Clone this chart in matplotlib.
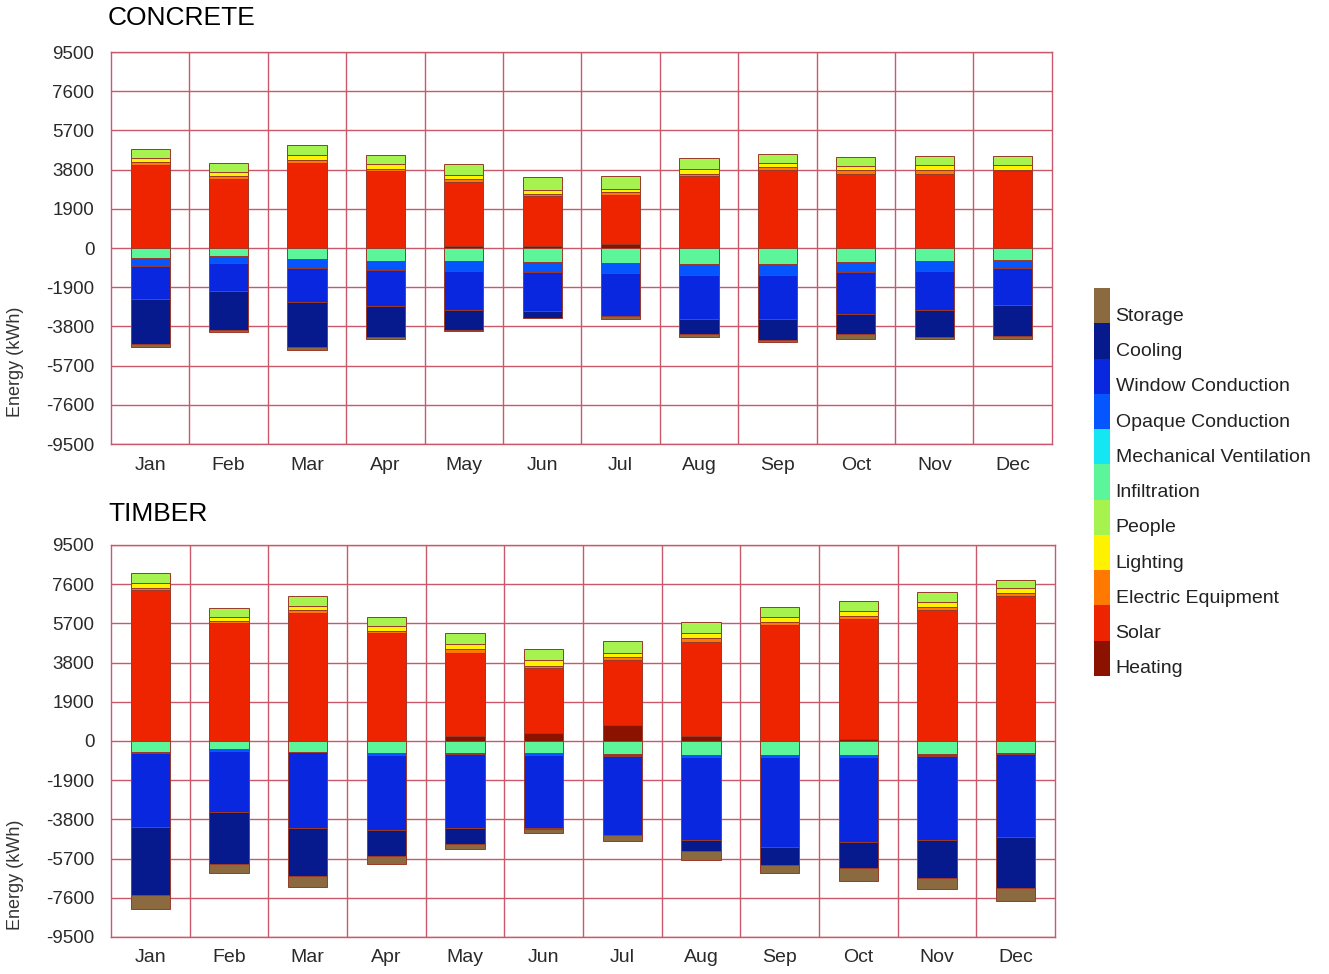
import numpy as np
import matplotlib
matplotlib.use('Agg')
import matplotlib.pyplot as plt

plt.rcParams['font.family'] = ['Liberation Sans', 'DejaVu Sans']

months = ['Jan', 'Feb', 'Mar', 'Apr', 'May', 'Jun', 'Jul', 'Aug', 'Sep', 'Oct', 'Nov', 'Dec']
yticks = [9500, 7600, 5700, 3800, 1900, 0, -1900, -3800, -5700, -7600, -9500]

# legend order, top to bottom
categories = ['Storage', 'Cooling', 'Window Conduction', 'Opaque Conduction',
              'Mechanical Ventilation', 'Infiltration', 'People', 'Lighting',
              'Electric Equipment', 'Solar', 'Heating']
colors = ['#8a6a3e', '#061a8e', '#0a27e0', '#0656ff', '#14e6f2', '#5cf59a',
          '#a6f24e', '#fff200', '#ff7800', '#ee2400', '#8c1200']

# CONCRETE (kWh) - gains
concrete_heating = [0, 0, 0, 0, 80, 80, 210, 0, 0, 0, 0, 0]
concrete_solar = [4025, 3350, 4120, 3715, 3100, 2455, 2375, 3475, 3800, 3600, 3600, 3715]
concrete_equipment = [130, 160, 160, 130, 160, 100, 110, 110, 130, 160, 195, 80]
concrete_lighting = [195, 195, 210, 225, 210, 195, 180, 260, 195, 225, 210, 210]
concrete_people = [450, 405, 485, 420, 515, 630, 600, 515, 450, 450, 435, 435]
# CONCRETE (kWh) - losses
concrete_infiltration = [500, 400, 535, 645, 645, 695, 725, 760, 775, 680, 645, 565]
concrete_mechvent = [0, 0, 0, 0, 0, 0, 0, 0, 0, 0, 0, 0]
concrete_opaque = [373, 325, 435, 405, 485, 450, 485, 550, 515, 485, 485, 420]
concrete_window = [1600, 1340, 1650, 1780, 1860, 1925, 2100, 2115, 2135, 2020, 1890, 1795]
concrete_cooling = [2200, 1890, 2180, 1485, 1000, 325, 0, 725, 1050, 985, 1295, 1470]
concrete_storage = [110, 110, 130, 100, 50, 0, 110, 160, 65, 240, 100, 160]

# TIMBER (kWh) - gains
timber_heating = [0, 0, 0, 0, 260, 405, 775, 240, 0, 100, 0, 0]
timber_solar = [7320, 5705, 6220, 5220, 4025, 3120, 3150, 4570, 5620, 5815, 6350, 7030]
timber_equipment = [110, 110, 130, 130, 160, 130, 160, 160, 130, 145, 160, 130]
timber_lighting = [210, 180, 210, 225, 240, 275, 195, 240, 240, 260, 240, 240]
timber_people = [485, 435, 485, 420, 565, 535, 580, 535, 485, 485, 450, 405]
# TIMBER (kWh) - losses
timber_infiltration = [550, 405, 515, 600, 565, 600, 645, 680, 680, 680, 630, 565]
timber_mechvent = [0, 0, 0, 0, 0, 0, 0, 0, 0, 0, 0, 0]
timber_opaque = [40, 80, 40, 80, 80, 80, 80, 80, 80, 80, 80, 60]
timber_window = [3600, 2975, 3685, 3635, 3585, 3555, 3830, 4040, 4395, 4150, 4090, 4040]
timber_cooling = [3280, 2505, 2325, 1245, 760, 50, 0, 535, 855, 1260, 1860, 2470]
timber_storage = [665, 420, 500, 405, 260, 195, 275, 435, 405, 615, 535, 645]

color_of = dict(zip(categories, colors))
grid_col = '#c8586a'
edge_col = '#9a3a2a'


def draw_panel(ax, gains, losses):
    x = np.arange(len(months))
    bottom = np.zeros(len(months))
    for name, vals in gains:
        v = np.array(vals, dtype=float)
        ax.bar(x, v, 0.5, bottom=bottom, color=color_of[name],
               edgecolor=edge_col, linewidth=0.7, zorder=3)
        bottom += v
    bottom = np.zeros(len(months))
    for name, vals in losses:
        v = -np.array(vals, dtype=float)
        ax.bar(x, v, 0.5, bottom=bottom, color=color_of[name],
               edgecolor=edge_col, linewidth=0.7, zorder=3)
        bottom += v
    ax.set_xlim(-0.5, len(months) - 0.5)
    ax.set_ylim(-9500, 9500)
    ax.set_yticks(yticks)
    ax.set_yticklabels([str(t) for t in yticks], fontsize=13.5, color='#2a2a2a')
    ax.set_xticks(x)
    ax.set_xticklabels(months, fontsize=14, color='#2a2a2a')
    ax.set_xticks(np.arange(0.5, len(months) - 0.5, 1), minor=True)
    ax.tick_params(which='both', length=0)
    ax.tick_params(axis='y', pad=12)
    ax.tick_params(axis='x', pad=9)
    ax.grid(True, axis='y', which='major', color=grid_col, linewidth=1.0, zorder=0)
    ax.grid(True, axis='x', which='minor', color=grid_col, linewidth=1.0, zorder=0)
    for s in ax.spines.values():
        s.set_color(grid_col)
        s.set_linewidth(1.0)


fig = plt.figure(figsize=(13.29, 9.74), dpi=100)

ax1 = fig.add_axes([0.0835, 0.5441, 0.708, 0.4025])
draw_panel(ax1,
           [('Heating', concrete_heating), ('Solar', concrete_solar),
            ('Electric Equipment', concrete_equipment), ('Lighting', concrete_lighting),
            ('People', concrete_people)],
           [('Infiltration', concrete_infiltration), ('Mechanical Ventilation', concrete_mechvent),
            ('Opaque Conduction', concrete_opaque), ('Window Conduction', concrete_window),
            ('Cooling', concrete_cooling), ('Storage', concrete_storage)])

ax2 = fig.add_axes([0.0835, 0.0380, 0.7103, 0.4025])
draw_panel(ax2,
           [('Heating', timber_heating), ('Solar', timber_solar),
            ('Electric Equipment', timber_equipment), ('Lighting', timber_lighting),
            ('People', timber_people)],
           [('Infiltration', timber_infiltration), ('Mechanical Ventilation', timber_mechvent),
            ('Opaque Conduction', timber_opaque), ('Window Conduction', timber_window),
            ('Cooling', timber_cooling), ('Storage', timber_storage)])

fig.text(0.0813, 0.9815, 'CONCRETE', fontsize=19, va='center', ha='left')
fig.text(0.0813, 1 - 514 / 974, 'TIMBER', fontsize=19, va='center', ha='left')
fig.text(16 / 1329, 1 - 362 / 974, 'Energy (kWh)', fontsize=13, rotation=90,
         va='center', ha='center', color='#333333')
fig.text(16 / 1329, 1 - 875 / 974, 'Energy (kWh)', fontsize=13, rotation=90,
         va='center', ha='center', color='#333333')

# colour-strip legend
lax = fig.add_axes([1094 / 1329, 1 - 676 / 974, 16 / 1329, 388 / 974])
n = len(categories)
for i, (name, col) in enumerate(zip(categories, colors)):
    yc = n - 1 - i
    lax.bar(0.5, 1, 1, bottom=yc, color=col, linewidth=0)
    lax.text(1.35, yc + 0.5 - 0.3, name, fontsize=14, va='center', ha='left',
             color='#222222', transform=lax.transData, clip_on=False)
lax.set_xlim(0, 1)
lax.set_ylim(0, n)
lax.axis('off')

fig.savefig('out.png', dpi=100)
